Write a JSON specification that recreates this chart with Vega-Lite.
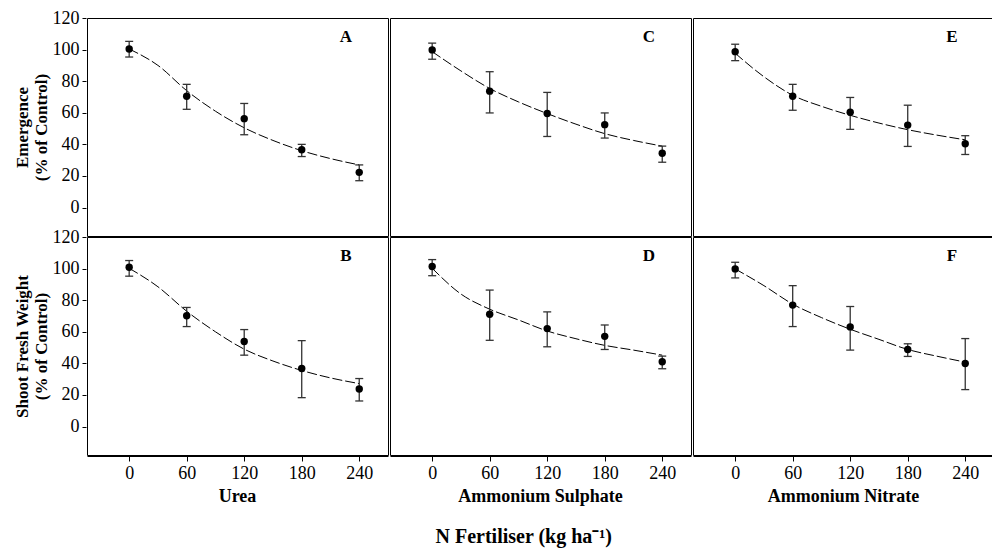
{
  "$schema": "https://vega.github.io/schema/vega-lite/v6.json",
  "padding": {"left": 12, "top": 9, "right": 0, "bottom": 5},
  "background": "white",
  "datasets": {
    "d": [
      {"m": "E", "f": "Urea", "p": "A", "t": "obs", "x": 0, "y": 100.4, "lo": 95.3, "hi": 105.2},
      {"m": "E", "f": "Urea", "p": "A", "t": "obs", "x": 60, "y": 70.5, "lo": 62.2, "hi": 78.0},
      {"m": "E", "f": "Urea", "p": "A", "t": "obs", "x": 120, "y": 56.3, "lo": 46.1, "hi": 65.9},
      {"m": "E", "f": "Urea", "p": "A", "t": "obs", "x": 180, "y": 36.6, "lo": 32.3, "hi": 40.0},
      {"m": "E", "f": "Urea", "p": "A", "t": "obs", "x": 240, "y": 22.3, "lo": 17.0, "hi": 27.0},
      {"m": "E", "f": "Urea", "p": "A", "t": "fit", "x": 0, "y": 100.4},
      {"m": "E", "f": "Urea", "p": "A", "t": "fit", "x": 30, "y": 90},
      {"m": "E", "f": "Urea", "p": "A", "t": "fit", "x": 60, "y": 74},
      {"m": "E", "f": "Urea", "p": "A", "t": "fit", "x": 90, "y": 61},
      {"m": "E", "f": "Urea", "p": "A", "t": "fit", "x": 120, "y": 50.5},
      {"m": "E", "f": "Urea", "p": "A", "t": "fit", "x": 150, "y": 42.5},
      {"m": "E", "f": "Urea", "p": "A", "t": "fit", "x": 180, "y": 36},
      {"m": "E", "f": "Urea", "p": "A", "t": "fit", "x": 210, "y": 31},
      {"m": "E", "f": "Urea", "p": "A", "t": "fit", "x": 240, "y": 27},

      {"m": "E", "f": "Ammonium Sulphate", "p": "C", "t": "obs", "x": 0, "y": 99.8, "lo": 93.9, "hi": 104.1},
      {"m": "E", "f": "Ammonium Sulphate", "p": "C", "t": "obs", "x": 60, "y": 73.7, "lo": 59.9, "hi": 86.0},
      {"m": "E", "f": "Ammonium Sulphate", "p": "C", "t": "obs", "x": 120, "y": 59.5, "lo": 45.0, "hi": 72.9},
      {"m": "E", "f": "Ammonium Sulphate", "p": "C", "t": "obs", "x": 180, "y": 52.5, "lo": 44.0, "hi": 59.9},
      {"m": "E", "f": "Ammonium Sulphate", "p": "C", "t": "obs", "x": 240, "y": 34.4, "lo": 28.7, "hi": 38.9},
      {"m": "E", "f": "Ammonium Sulphate", "p": "C", "t": "fit", "x": 0, "y": 98.7},
      {"m": "E", "f": "Ammonium Sulphate", "p": "C", "t": "fit", "x": 30, "y": 86.5},
      {"m": "E", "f": "Ammonium Sulphate", "p": "C", "t": "fit", "x": 60, "y": 75.4},
      {"m": "E", "f": "Ammonium Sulphate", "p": "C", "t": "fit", "x": 90, "y": 66.9},
      {"m": "E", "f": "Ammonium Sulphate", "p": "C", "t": "fit", "x": 120, "y": 59.5},
      {"m": "E", "f": "Ammonium Sulphate", "p": "C", "t": "fit", "x": 150, "y": 52.8},
      {"m": "E", "f": "Ammonium Sulphate", "p": "C", "t": "fit", "x": 180, "y": 46.8},
      {"m": "E", "f": "Ammonium Sulphate", "p": "C", "t": "fit", "x": 210, "y": 42.5},
      {"m": "E", "f": "Ammonium Sulphate", "p": "C", "t": "fit", "x": 240, "y": 38.9},

      {"m": "E", "f": "Ammonium Nitrate", "p": "E", "t": "obs", "x": 0, "y": 98.7, "lo": 93.0, "hi": 103.4},
      {"m": "E", "f": "Ammonium Nitrate", "p": "E", "t": "obs", "x": 60, "y": 70.5, "lo": 61.6, "hi": 78.0},
      {"m": "E", "f": "Ammonium Nitrate", "p": "E", "t": "obs", "x": 120, "y": 60.3, "lo": 49.5, "hi": 69.7},
      {"m": "E", "f": "Ammonium Nitrate", "p": "E", "t": "obs", "x": 180, "y": 52.2, "lo": 38.7, "hi": 64.8},
      {"m": "E", "f": "Ammonium Nitrate", "p": "E", "t": "obs", "x": 240, "y": 40.4, "lo": 33.6, "hi": 45.5},
      {"m": "E", "f": "Ammonium Nitrate", "p": "E", "t": "fit", "x": 0, "y": 97.7},
      {"m": "E", "f": "Ammonium Nitrate", "p": "E", "t": "fit", "x": 30, "y": 82.8},
      {"m": "E", "f": "Ammonium Nitrate", "p": "E", "t": "fit", "x": 60, "y": 71.1},
      {"m": "E", "f": "Ammonium Nitrate", "p": "E", "t": "fit", "x": 90, "y": 64.1},
      {"m": "E", "f": "Ammonium Nitrate", "p": "E", "t": "fit", "x": 120, "y": 58.4},
      {"m": "E", "f": "Ammonium Nitrate", "p": "E", "t": "fit", "x": 150, "y": 53.5},
      {"m": "E", "f": "Ammonium Nitrate", "p": "E", "t": "fit", "x": 180, "y": 49.3},
      {"m": "E", "f": "Ammonium Nitrate", "p": "E", "t": "fit", "x": 210, "y": 45.9},
      {"m": "E", "f": "Ammonium Nitrate", "p": "E", "t": "fit", "x": 240, "y": 42.9},

      {"m": "S", "f": "Urea", "p": "B", "t": "obs", "x": 0, "y": 100.9, "lo": 95.2, "hi": 105.1},
      {"m": "S", "f": "Urea", "p": "B", "t": "obs", "x": 60, "y": 70.1, "lo": 63.3, "hi": 75.4},
      {"m": "S", "f": "Urea", "p": "B", "t": "obs", "x": 120, "y": 53.9, "lo": 45.2, "hi": 61.4},
      {"m": "S", "f": "Urea", "p": "B", "t": "obs", "x": 180, "y": 36.8, "lo": 18.3, "hi": 54.4},
      {"m": "S", "f": "Urea", "p": "B", "t": "obs", "x": 240, "y": 23.8, "lo": 16.2, "hi": 30.4},
      {"m": "S", "f": "Urea", "p": "B", "t": "fit", "x": 0, "y": 100.2},
      {"m": "S", "f": "Urea", "p": "B", "t": "fit", "x": 30, "y": 88.5},
      {"m": "S", "f": "Urea", "p": "B", "t": "fit", "x": 60, "y": 73},
      {"m": "S", "f": "Urea", "p": "B", "t": "fit", "x": 90, "y": 60},
      {"m": "S", "f": "Urea", "p": "B", "t": "fit", "x": 120, "y": 49},
      {"m": "S", "f": "Urea", "p": "B", "t": "fit", "x": 150, "y": 41.5},
      {"m": "S", "f": "Urea", "p": "B", "t": "fit", "x": 180, "y": 35.5},
      {"m": "S", "f": "Urea", "p": "B", "t": "fit", "x": 210, "y": 30.8},
      {"m": "S", "f": "Urea", "p": "B", "t": "fit", "x": 240, "y": 27.2},

      {"m": "S", "f": "Ammonium Sulphate", "p": "D", "t": "obs", "x": 0, "y": 101.3, "lo": 95.5, "hi": 105.7},
      {"m": "S", "f": "Ammonium Sulphate", "p": "D", "t": "obs", "x": 60, "y": 71.1, "lo": 54.6, "hi": 86.4},
      {"m": "S", "f": "Ammonium Sulphate", "p": "D", "t": "obs", "x": 120, "y": 62.0, "lo": 50.5, "hi": 72.6},
      {"m": "S", "f": "Ammonium Sulphate", "p": "D", "t": "obs", "x": 180, "y": 57.1, "lo": 48.8, "hi": 64.3},
      {"m": "S", "f": "Ammonium Sulphate", "p": "D", "t": "obs", "x": 240, "y": 41.0, "lo": 36.6, "hi": 44.6},
      {"m": "S", "f": "Ammonium Sulphate", "p": "D", "t": "fit", "x": 0, "y": 100.2},
      {"m": "S", "f": "Ammonium Sulphate", "p": "D", "t": "fit", "x": 30, "y": 83.9},
      {"m": "S", "f": "Ammonium Sulphate", "p": "D", "t": "fit", "x": 60, "y": 74.3},
      {"m": "S", "f": "Ammonium Sulphate", "p": "D", "t": "fit", "x": 90, "y": 67.5},
      {"m": "S", "f": "Ammonium Sulphate", "p": "D", "t": "fit", "x": 120, "y": 60.5},
      {"m": "S", "f": "Ammonium Sulphate", "p": "D", "t": "fit", "x": 150, "y": 55.6},
      {"m": "S", "f": "Ammonium Sulphate", "p": "D", "t": "fit", "x": 180, "y": 51.4},
      {"m": "S", "f": "Ammonium Sulphate", "p": "D", "t": "fit", "x": 210, "y": 48.4},
      {"m": "S", "f": "Ammonium Sulphate", "p": "D", "t": "fit", "x": 240, "y": 45.2},

      {"m": "S", "f": "Ammonium Nitrate", "p": "F", "t": "obs", "x": 0, "y": 99.8, "lo": 94.1, "hi": 104.0},
      {"m": "S", "f": "Ammonium Nitrate", "p": "F", "t": "obs", "x": 60, "y": 76.9, "lo": 63.3, "hi": 89.2},
      {"m": "S", "f": "Ammonium Nitrate", "p": "F", "t": "obs", "x": 120, "y": 63.1, "lo": 48.4, "hi": 76.0},
      {"m": "S", "f": "Ammonium Nitrate", "p": "F", "t": "obs", "x": 180, "y": 48.8, "lo": 44.4, "hi": 52.4},
      {"m": "S", "f": "Ammonium Nitrate", "p": "F", "t": "obs", "x": 240, "y": 39.9, "lo": 23.4, "hi": 55.7},
      {"m": "S", "f": "Ammonium Nitrate", "p": "F", "t": "fit", "x": 0, "y": 99.8},
      {"m": "S", "f": "Ammonium Nitrate", "p": "F", "t": "fit", "x": 30, "y": 89.2},
      {"m": "S", "f": "Ammonium Nitrate", "p": "F", "t": "fit", "x": 60, "y": 77.5},
      {"m": "S", "f": "Ammonium Nitrate", "p": "F", "t": "fit", "x": 90, "y": 69.0},
      {"m": "S", "f": "Ammonium Nitrate", "p": "F", "t": "fit", "x": 120, "y": 61.6},
      {"m": "S", "f": "Ammonium Nitrate", "p": "F", "t": "fit", "x": 150, "y": 55.2},
      {"m": "S", "f": "Ammonium Nitrate", "p": "F", "t": "fit", "x": 180, "y": 48.8},
      {"m": "S", "f": "Ammonium Nitrate", "p": "F", "t": "fit", "x": 210, "y": 44.6},
      {"m": "S", "f": "Ammonium Nitrate", "p": "F", "t": "fit", "x": 240, "y": 40.8}
    ]
  },
  "title": {
    "text": "N Fertiliser (kg ha⁻¹)",
    "orient": "bottom",
    "anchor": "middle",
    "frame": "bounds",
    "dx": 20,
    "font": "Liberation Serif",
    "fontSize": 20,
    "fontWeight": "bold",
    "color": "black",
    "offset": 21
  },
  "spacing": -9,
  "vconcat": [
    {
      "data": {"name": "d"},
      "transform": [{"filter": "datum.m === 'E'"}],
      "facet": {
        "column": {"field": "f", "type": "nominal", "sort": ["Urea", "Ammonium Sulphate", "Ammonium Nitrate"], "header": null}
      },
      "spacing": 0,
      "spec": {
        "width": 301,
        "height": 218,
        "encoding": {
          "x": {"field": "x", "type": "quantitative", "scale": {"domain": [-44, 270], "nice": false, "zero": false}, "axis": null},
          "y": {"type": "quantitative", "scale": {"domain": [-18, 120], "nice": false}, "title": ["Emergence", "(% of Control)"],
            "axis": {"values": [0, 20, 40, 60, 80, 100, 120], "tickCount": 7, "labelOverlap": false, "grid": false, "domain": false, "tickSize": 4, "labelPadding": 3, "labelFontSize": 18, "labelFont": "Liberation Serif", "titleFont": "Liberation Serif", "titleFontSize": 17, "titleFontWeight": "bold", "titleX": -55, "titleLineHeight": 19}}
        },
        "layer": [
          {
            "transform": [{"filter": "datum.t === 'fit'"}],
            "mark": {"type": "line", "color": "black", "strokeWidth": 1, "strokeDash": [10, 3], "interpolate": "monotone"},
            "encoding": {"y": {"field": "y"}}
          },
          {
            "transform": [{"filter": "datum.t === 'obs'"}],
            "mark": {"type": "rule", "color": "#333333", "strokeWidth": 1.3},
            "encoding": {"y": {"field": "lo"}, "y2": {"field": "hi"}}
          },
          {
            "transform": [{"filter": "datum.t === 'obs'"}],
            "mark": {"type": "tick", "orient": "horizontal", "color": "#333333", "size": 8, "thickness": 1.3, "opacity": 1},
            "encoding": {"y": {"field": "lo"}}
          },
          {
            "transform": [{"filter": "datum.t === 'obs'"}],
            "mark": {"type": "tick", "orient": "horizontal", "color": "#333333", "size": 8, "thickness": 1.3, "opacity": 1},
            "encoding": {"y": {"field": "hi"}}
          },
          {
            "transform": [{"filter": "datum.t === 'obs'"}],
            "mark": {"type": "point", "shape": "circle", "filled": true, "size": 55, "color": "black", "opacity": 1},
            "encoding": {"y": {"field": "y"}}
          },
          {
            "transform": [{"filter": "datum.t === 'obs' && datum.x === 0"}],
            "mark": {"type": "text", "font": "Liberation Serif", "fontSize": 17, "fontWeight": "bold", "color": "black"},
            "encoding": {
              "x": {"datum": 226, "type": "quantitative"},
              "y": {"datum": 108, "type": "quantitative"},
              "text": {"field": "p"}
            }
          }
        ]
      }
    },
    {
      "data": {"name": "d"},
      "transform": [{"filter": "datum.m === 'S'"}],
      "facet": {
        "column": {"field": "f", "type": "nominal", "sort": ["Urea", "Ammonium Sulphate", "Ammonium Nitrate"],
          "header": {"title": null, "labelOrient": "bottom", "labelFont": "Liberation Serif", "labelFontSize": 18, "labelFontWeight": "bold", "labelColor": "black", "labelPadding": 6}}
      },
      "spacing": 0,
      "spec": {
        "width": 301,
        "height": 218,
        "encoding": {
          "x": {"field": "x", "type": "quantitative", "scale": {"domain": [-44, 270], "nice": false, "zero": false}, "title": null,
            "axis": {"values": [0, 60, 120, 180, 240], "labelOverlap": false, "grid": false, "domain": true, "domainColor": "black", "tickSize": 5, "labelPadding": 3, "labelFontSize": 18, "labelFont": "Liberation Serif"}},
          "y": {"type": "quantitative", "scale": {"domain": [-18, 120], "nice": false}, "title": ["Shoot Fresh Weight", "(% of Control)"],
            "axis": {"values": [0, 20, 40, 60, 80, 100, 120], "tickCount": 7, "labelOverlap": false, "grid": false, "domain": false, "tickSize": 4, "labelPadding": 3, "labelFontSize": 18, "labelFont": "Liberation Serif", "titleFont": "Liberation Serif", "titleFontSize": 17, "titleFontWeight": "bold", "titleX": -55, "titleLineHeight": 19}}
        },
        "layer": [
          {
            "transform": [{"filter": "datum.t === 'fit'"}],
            "mark": {"type": "line", "color": "black", "strokeWidth": 1, "strokeDash": [10, 3], "interpolate": "monotone"},
            "encoding": {"y": {"field": "y"}}
          },
          {
            "transform": [{"filter": "datum.t === 'obs'"}],
            "mark": {"type": "rule", "color": "#333333", "strokeWidth": 1.3},
            "encoding": {"y": {"field": "lo"}, "y2": {"field": "hi"}}
          },
          {
            "transform": [{"filter": "datum.t === 'obs'"}],
            "mark": {"type": "tick", "orient": "horizontal", "color": "#333333", "size": 8, "thickness": 1.3, "opacity": 1},
            "encoding": {"y": {"field": "lo"}}
          },
          {
            "transform": [{"filter": "datum.t === 'obs'"}],
            "mark": {"type": "tick", "orient": "horizontal", "color": "#333333", "size": 8, "thickness": 1.3, "opacity": 1},
            "encoding": {"y": {"field": "hi"}}
          },
          {
            "transform": [{"filter": "datum.t === 'obs'"}],
            "mark": {"type": "point", "shape": "circle", "filled": true, "size": 55, "color": "black", "opacity": 1},
            "encoding": {"y": {"field": "y"}}
          },
          {
            "transform": [{"filter": "datum.t === 'obs' && datum.x === 0"}],
            "mark": {"type": "text", "font": "Liberation Serif", "fontSize": 17, "fontWeight": "bold", "color": "black"},
            "encoding": {
              "x": {"datum": 226, "type": "quantitative"},
              "y": {"datum": 108, "type": "quantitative"},
              "text": {"field": "p"}
            }
          }
        ]
      }
    }
  ],
  "config": {
    "view": {"stroke": "black", "strokeWidth": 1},
    "font": "Liberation Serif",
    "axis": {"labelColor": "black", "titleColor": "black", "tickColor": "black", "domainColor": "black"}
  }
}
